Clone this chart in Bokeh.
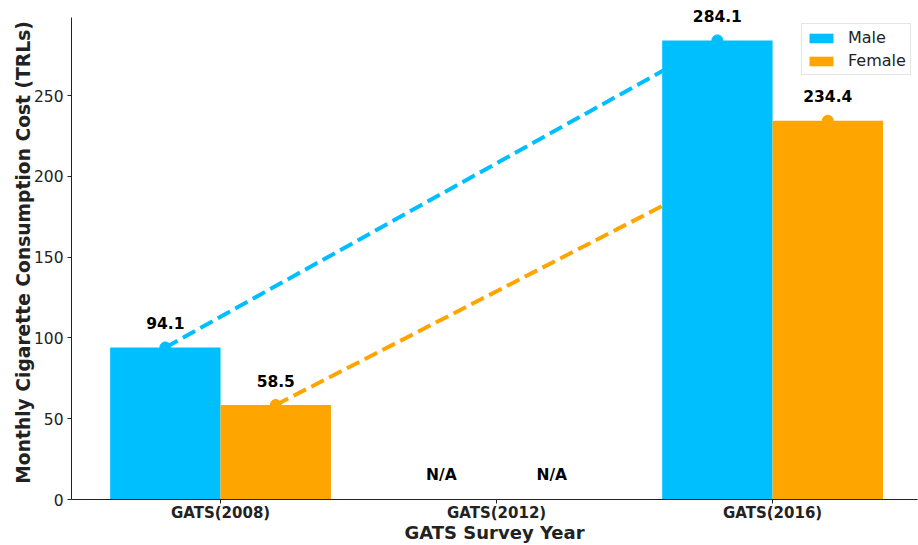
from bokeh.plotting import figure
from bokeh.models import Range1d, FixedTicker, ColumnDataSource, Legend, LegendItem
from bokeh.embed import file_html
from bokeh.resources import INLINE
from bokeh.core.properties import value

categories = ["GATS(2008)", "GATS(2012)", "GATS(2016)"]
male = [94.1, None, 284.1]
female = [58.5, None, 234.4]
male_color = "#00BFFF"
female_color = "#FFA500"
FONT = "DejaVu Sans"
TXT = "#222222"

xs = list(range(len(categories)))
bw = 0.4

p = figure(width=918, height=545, output_backend="svg", toolbar_location=None,
           x_range=Range1d(-0.54, 2.525), y_range=Range1d(0, 305.7),
           min_border_left=71, min_border_right=1, min_border_top=5, min_border_bottom=40)
p.outline_line_color = None
p.xgrid.visible = False
p.ygrid.visible = False
p.background_fill_color = "white"

# lines behind bars (only available years)
mx = [x - bw / 2 for x, v in zip(xs, male) if v is not None]
my = [v for v in male if v is not None]
fx = [x + bw / 2 for x, v in zip(xs, female) if v is not None]
fy = [v for v in female if v is not None]
p.line(mx, my, line_color=male_color, line_width=4, line_dash="14 6")
p.scatter(mx, my, size=11, fill_color=male_color, line_color=male_color)
p.line(fx, fy, line_color=female_color, line_width=4, line_dash="14 6")
p.scatter(fx, fy, size=11, fill_color=female_color, line_color=female_color)

rm = p.vbar(x=mx, top=my, width=bw, bottom=0, fill_color=male_color, line_color=None)
rf = p.vbar(x=fx, top=fy, width=bw, bottom=0, fill_color=female_color, line_color=None)

# value labels
lab_x, lab_y, lab_t = [], [], []
for i, (m, f) in enumerate(zip(male, female)):
    for off, v in ((-bw / 2, m), (bw / 2, f)):
        lab_x.append(i + off)
        if v is None:
            lab_y.append(15)
            lab_t.append("N/A")
        else:
            lab_y.append(v + 15)
            lab_t.append(f"{v:.1f}")
src = ColumnDataSource(dict(x=lab_x, y=lab_y, t=lab_t))
p.text(x="x", y="y", text="t", source=src, text_align="center", text_baseline="middle",
       text_font=value(FONT), text_font_size="15.5px", text_font_style="bold", text_color="black")

# axes
p.xaxis.ticker = FixedTicker(ticks=xs)
p.xaxis.major_label_overrides = {i: c for i, c in enumerate(categories)}
p.xaxis.major_label_text_font = FONT
p.xaxis.major_label_text_font_size = "15px"
p.xaxis.major_label_text_font_style = "bold"
p.xaxis.major_label_text_color = TXT
p.xaxis.minor_tick_line_color = None
p.xaxis.major_tick_in = 0
p.xaxis.major_tick_out = 4
p.xaxis.axis_label = "GATS Survey Year"
p.xaxis.axis_label_text_font = FONT
p.xaxis.axis_label_text_font_size = "18px"
p.xaxis.axis_label_text_font_style = "bold"
p.xaxis.axis_label_text_color = TXT
p.xaxis.axis_label_standoff = -3
p.xaxis.major_label_standoff = 0

p.yaxis.ticker = FixedTicker(ticks=[0, 50, 100, 150, 200, 250])
p.yaxis.bounds = (0, 298.3)
p.yaxis.major_label_text_font = FONT
p.yaxis.major_label_text_font_size = "15.5px"
p.yaxis.major_label_text_color = TXT
p.yaxis.minor_tick_line_color = None
p.yaxis.major_tick_in = 0
p.yaxis.major_tick_out = 4
p.yaxis.axis_label = "Monthly Cigarette Consumption Cost (TRLs)"
p.yaxis.axis_label_text_font = FONT
p.yaxis.axis_label_text_font_size = "18.7px"
p.yaxis.axis_label_text_font_style = "bold"
p.yaxis.axis_label_text_color = TXT
p.yaxis.axis_label_standoff = -3
p.yaxis.major_label_standoff = 4
for ax in (p.xaxis, p.yaxis):
    ax.axis_line_color = TXT
    ax.major_tick_line_color = TXT

legend = Legend(items=[LegendItem(label="Male", renderers=[rm]),
                       LegendItem(label="Female", renderers=[rf])],
                location=(730, 424))
legend.padding = 4
legend.spacing = 4
legend.glyph_width = 30
legend.glyph_height = 12
legend.label_standoff = 12
legend.label_text_font = FONT
legend.label_text_font_size = "16px"
legend.label_text_color = TXT
legend.border_line_color = "#cccccc"
legend.border_line_width = 1
legend.background_fill_alpha = 0.8
p.add_layout(legend)

open("out.html", "w").write(file_html(p, INLINE))
